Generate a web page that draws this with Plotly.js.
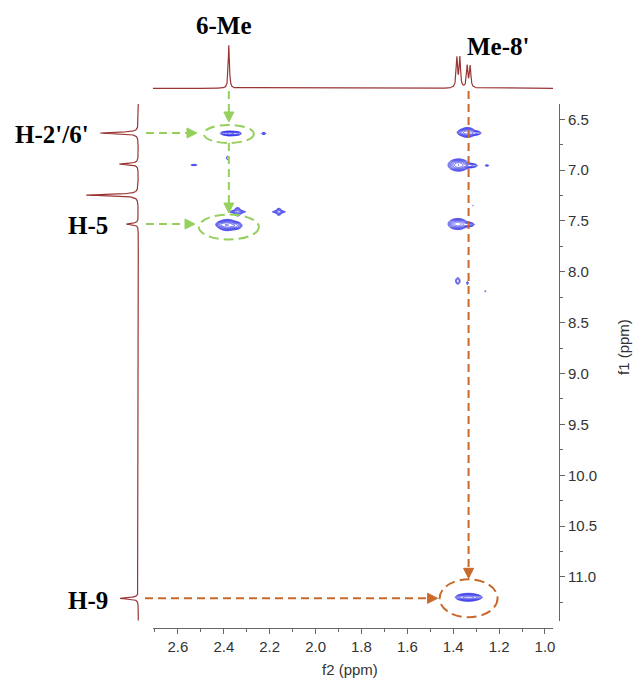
<!DOCTYPE html>
<html><head><meta charset="utf-8">
<script src="https://cdn.plot.ly/plotly-3.0.1.min.js"></script>
<style>html,body{margin:0;padding:0;background:#fff}#chart{width:635px;height:679px}</style>
</head><body><div id="chart"></div>
<script>
// ---------------- data ----------------
// top 1D projection (f2 axis): peak positions (ppm) and relative heights
const f2PeakPpm    = [2.378, 1.384, 1.371, 1.339, 1.326];
const f2PeakHeight = [1.00, 0.69, 0.69, 0.50, 0.50];
// left 1D projection (f1 axis)
const f1PeakPpm    = [6.635, 6.94, 7.245, 7.53, 11.21];
const f1PeakHeight = [0.73, 0.365, 1.00, 0.23, 0.35];
// 2D cross peaks: f2 position, f1 position, intensity, width f2, width f1 (ppm)
const crossF2  = [2.385, 2.350, 2.410, 2.340, 2.340, 2.160, 2.160, 2.375, 2.350, 2.395, 2.226, 2.383, 2.530,
                  1.338, 1.305, 1.360, 1.377, 1.330, 1.253, 1.380, 1.335, 1.314, 1.380, 1.338, 1.260,
                  1.334, 1.310, 1.360];
const crossF1  = [7.540, 7.545, 7.535, 7.410, 7.410, 7.410, 7.410, 6.640, 6.640, 6.638, 6.640, 6.880, 6.950,
                  6.630, 6.635, 6.630, 6.950, 6.955, 6.955, 7.530, 7.535, 7.350, 8.090, 8.110, 8.190,
                  11.200, 11.200, 11.200];
const crossInt = [1.00, 0.50, 0.40, 0.35, 0.20, 0.25, 0.15, 0.40, 0.30, 0.20, 0.12, 0.10, 0.10,
                  0.80, 0.30, 0.30, 1.00, 0.35, 0.10, 0.90, 0.35, 0.05, 0.15, 0.08, 0.06,
                  0.60, 0.30, 0.30];
const crossW2  = [0.017, 0.013, 0.011, 0.008, 0.020, 0.007, 0.018, 0.013, 0.013, 0.011, 0.006, 0.0045, 0.010,
                  0.014, 0.013, 0.011, 0.018, 0.017, 0.006, 0.017, 0.013, 0.0025, 0.006, 0.0035, 0.0035,
                  0.022, 0.017, 0.013];
const crossW1  = [0.022, 0.017, 0.013, 0.020, 0.007, 0.018, 0.006, 0.011, 0.010, 0.009, 0.007, 0.013, 0.005,
                  0.020, 0.011, 0.013, 0.024, 0.011, 0.005, 0.022, 0.011, 0.005, 0.020, 0.013, 0.006,
                  0.017, 0.011, 0.011];
// assignment labels
const labelText = ['6-Me', "Me-8'", "H-2'/6'", 'H-5', 'H-9'];
// highlighted correlations (f2 ppm, f1 ppm)
const green1 = {f2: 2.378, f1: 6.635};
const green2 = {f2: 2.378, f1: 7.53};
const orange1 = {f2: 1.333, f1: 11.21};
// axis titles
const xTitle = 'f2 (ppm)', yTitle = 'f1 (ppm)';

// ---------------- geometry ----------------
const W = 635, H = 679;
const XR = [2.71, 0.965], XPX = [152.7, 553];
const YR = [11.43, 6.35], YPX = [620.7, 104];
const xToPx = v => XPX[0] + (v - XR[0]) / (XR[1] - XR[0]) * (XPX[1] - XPX[0]);
const yToPx = v => YPX[0] + (v - YR[0]) / (YR[1] - YR[0]) * (YPX[1] - YPX[0]);
const PX = x => x / W, PY = y => 1 - y / H;

// ---------------- traces ----------------
function lor(x, x0, w) { const d = (x - x0) / w; return 1 / (1 + d * d); }

// top projection
const tx = [], ty = [];
for (let v = XR[1]; v <= XR[0] + 1e-9; v += 0.0004) {
  let s = 0;
  for (let i = 0; i < f2PeakPpm.length; i++) s += f2PeakHeight[i] * lor(v, f2PeakPpm[i], i === 0 ? 0.003 : 0.0035);
  tx.push(v); ty.push(s);
}
// left projection
const lx = [], ly = [];
for (let v = YR[1]; v <= YR[0] + 1e-9; v += 0.001) {
  let s = 0;
  for (let i = 0; i < f1PeakPpm.length; i++) s += f1PeakHeight[i] * lor(v, f1PeakPpm[i], 0.008);
  ly.push(v); lx.push(s);
}

// 2D surface on a grid, contoured on a log scale (geometric contour levels, as in NMR software)
function grid(x0, x1, dx, y0, y1, dy) {
  const xs = [], ys = [], z = [];
  for (let x = x0; x <= x1; x += dx) xs.push(x);
  for (let y = y0; y <= y1; y += dy) ys.push(y);
  for (let j = 0; j < ys.length; j++) {
    const row = new Array(xs.length).fill(0);
    for (let k = 0; k < crossF2.length; k++) {
      const ey = (ys[j] - crossF1[k]) / crossW1[k];
      if (Math.abs(ey) > 5) continue;
      const fy = Math.exp(-0.5 * ey * ey);
      for (let i = 0; i < xs.length; i++) {
        const ex = (xs[i] - crossF2[k]) / crossW2[k];
        if (Math.abs(ex) > 5) continue;
        row[i] += crossInt[k] * fy * Math.exp(-0.5 * ex * ex);
      }
    }
    z.push(row.map(v => Math.log10(v + 1e-4)));
  }
  return {xs, ys, z};
}
const gA = grid(1.15, 2.62, 0.0025, 6.45, 8.3, 0.004);
const gB = grid(1.15, 1.55, 0.0025, 11.05, 11.35, 0.004);
const contourStyle = {
  type: 'contour', xaxis: 'x', yaxis: 'y', showscale: false, hoverinfo: 'skip',
  colorscale: [[0, '#2b2be6'], [1, '#2b2be6']],
  contours: {coloring: 'lines', start: -1.4, end: 0, size: 0.2},
  line: {width: 0.7}
};
const traces = [
  Object.assign({}, contourStyle, {x: gA.xs, y: gA.ys, z: gA.z}),
  Object.assign({}, contourStyle, {x: gB.xs, y: gB.ys, z: gB.z}),
  {type: 'scatter', mode: 'lines', x: tx, y: ty, xaxis: 'x', yaxis: 'y2',
   line: {color: '#9a3535', width: 1.2}, hoverinfo: 'skip', showlegend: false},
  {type: 'scatter', mode: 'lines', x: lx, y: ly, xaxis: 'x3', yaxis: 'y',
   line: {color: '#9a3535', width: 1.2}, hoverinfo: 'skip', showlegend: false}
];

// ---------------- annotations (shapes) ----------------
const GREEN = '#95d05e', ORANGE = '#c9692c';
const shapes = [];
function dline(x0, y0, x1, y1, c) {
  shapes.push({type: 'line', xref: 'paper', yref: 'paper', x0: PX(x0), y0: PY(y0), x1: PX(x1), y1: PY(y1),
    line: {color: c, width: 2, dash: '8px,5px'}});
}
function ell(cx, cy, rx, ry, c) {
  shapes.push({type: 'circle', xref: 'paper', yref: 'paper', x0: PX(cx - rx), x1: PX(cx + rx), y0: PY(cy + ry), y1: PY(cy - ry),
    line: {color: c, width: 2, dash: '10px,5px'}});
}
function head(tx_, ty_, dir, c) { // dir: 'down' or 'right'
  let pts;
  if (dir === 'down') pts = [[tx_, ty_], [tx_ - 5, ty_ - 10], [tx_ + 5, ty_ - 10]];
  else pts = [[tx_, ty_], [tx_ - 10, ty_ - 5], [tx_ - 10, ty_ + 5]];
  const p = 'M' + pts.map(q => PX(q[0]) + ',' + PY(q[1])).join('L') + 'Z';
  shapes.push({type: 'path', xref: 'paper', yref: 'paper', path: p, fillcolor: c, line: {color: c, width: 1}});
}
// green: 6-Me
const gx = xToPx(green1.f2), gy1 = yToPx(green1.f1), gy2 = yToPx(green2.f1);
dline(gx, 91, gx, gy1 - 20, GREEN); head(gx, gy1 - 11, 'down', GREEN);
dline(gx, gy1 + 10, gx, gy2 - 20, GREEN); head(gx, gy2 - 11, 'down', GREEN);
ell(gx, gy1 + 1, 25, 9, GREEN);
ell(gx, gy2 + 3, 30, 12.5, GREEN);
dline(146, gy1, 187, gy1, GREEN); head(197, gy1, 'right', GREEN);
dline(146, gy2, 185, gy2, GREEN); head(195, gy2, 'right', GREEN);
// orange: Me-8'
const ox = xToPx(orange1.f2), oy = yToPx(orange1.f1);
dline(ox, 91, ox, oy - 30, ORANGE); head(ox, oy - 20, 'down', ORANGE);
ell(ox, oy, 29, 19, ORANGE);
dline(145, oy, ox - 41, oy, ORANGE); head(ox - 31, oy, 'right', ORANGE);

// ---------------- labels ----------------
const labelPos = [[224, 26], [498, 47], [52, 135], [88, 226], [88, 600]];
const annotations = labelText.map((t, i) => ({
  text: t, xref: 'paper', yref: 'paper', x: PX(labelPos[i][0]), y: PY(labelPos[i][1]),
  xanchor: 'center', yanchor: 'middle', showarrow: false,
  font: {family: 'Liberation Serif, Times New Roman, serif', size: 25, color: '#000', weight: 'bold'}
}));
annotations.push({text: xTitle, xref: 'paper', yref: 'paper', x: PX(350), y: PY(669), xanchor: 'center', yanchor: 'middle',
  showarrow: false, font: {family: 'Liberation Sans, Arial, sans-serif', size: 15, color: '#333'}});
annotations.push({text: yTitle, xref: 'paper', yref: 'paper', x: PX(623), y: PY(347), xanchor: 'center', yanchor: 'middle',
  textangle: -90, showarrow: false, font: {family: 'Liberation Sans, Arial, sans-serif', size: 15, color: '#333'}});

// ---------------- layout ----------------
const tickFont = {family: 'Liberation Sans, Arial, sans-serif', size: 15, color: '#333'};
const layout = {
  width: W, height: H, margin: {l: 0, r: 0, t: 0, b: 0},
  paper_bgcolor: '#fff', plot_bgcolor: 'rgba(0,0,0,0)', showlegend: false,
  xaxis: {domain: [PX(XPX[0]), PX(XPX[1])], range: XR, anchor: 'free', position: PY(627.7),
    showline: true, linecolor: '#666', linewidth: 1, showgrid: false, zeroline: false,
    ticks: 'outside', ticklen: 5, tickcolor: '#666', dtick: 0.2, tick0: 1.0, tickformat: '.1f', tickfont: tickFont,
    minor: {dtick: 0.1, tick0: 1.0, ticks: 'outside', ticklen: 3, tickcolor: '#666', showgrid: false}},
  yaxis: {domain: [PY(YPX[0]), PY(YPX[1])], range: YR, anchor: 'free', position: PX(559), side: 'right',
    showline: true, linecolor: '#666', linewidth: 1, showgrid: false, zeroline: false,
    ticks: 'outside', ticklen: 5, tickcolor: '#666', dtick: 0.5, tick0: 6.5, tickformat: '.1f', tickfont: tickFont,
    minor: {dtick: 0.25, tick0: 6.5, ticks: 'outside', ticklen: 3, tickcolor: '#666', showgrid: false}},
  yaxis2: {domain: [PY(90), PY(38)], range: [-0.039, 1.162], anchor: 'x', visible: false},
  xaxis3: {domain: [PX(80), PX(142)], range: [1.121, -0.071], anchor: 'y', visible: false},
  shapes: shapes, annotations: annotations
};
Plotly.newPlot('chart', traces, layout, {staticPlot: true, displayModeBar: false});
</script></body></html>
